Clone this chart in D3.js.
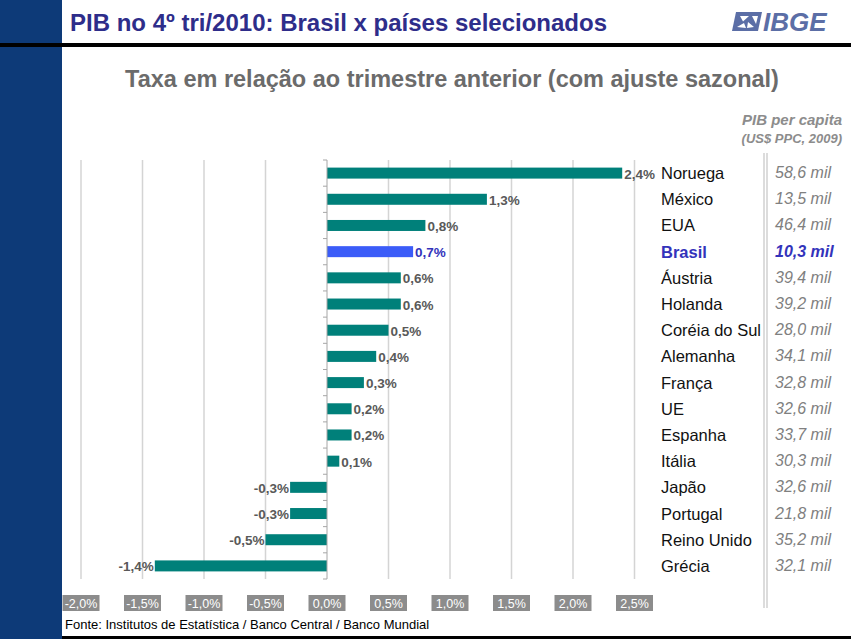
<!DOCTYPE html>
<html>
<head>
<meta charset="utf-8">
<script src="https://cdn.jsdelivr.net/npm/d3@7/dist/d3.min.js"></script>
<style>
html,body{margin:0;padding:0;background:#fff;}
svg{display:block;font-family:"Liberation Sans",Arial,sans-serif;}
</style>
</head>
<body>
<svg id="chart" width="851" height="639"></svg>
<script>
const countries = ["Noruega","México","EUA","Brasil","Áustria","Holanda","Coréia do Sul","Alemanha","França","UE","Espanha","Itália","Japão","Portugal","Reino Unido","Grécia"];
const growth = [2.4,1.3,0.8,0.7,0.6,0.6,0.5,0.4,0.3,0.2,0.2,0.1,-0.3,-0.3,-0.5,-1.4];
const perCapita = ["58,6","13,5","46,4","10,3","39,4","39,2","28,0","34,1","32,8","32,6","33,7","30,3","32,6","21,8","35,2","32,1"];
const xTicks = [-2,-1.5,-1,-0.5,0,0.5,1,1.5,2,2.5];
const highlight = "Brasil";

const svg = d3.select("#chart");
const fmt = v => v.toFixed(1).replace(".", ",") + "%";

// frame
svg.append("rect").attr("x",0).attr("y",0).attr("width",62).attr("height",639).attr("fill","#0d3a78");
svg.append("rect").attr("x",0).attr("y",43).attr("width",851).attr("height",4).attr("fill","#000");
svg.append("rect").attr("x",62).attr("y",636).attr("width",789).attr("height",3).attr("fill","#000");

// title
svg.append("text").attr("x",70).attr("y",31).attr("font-size",24).attr("font-weight","bold")
  .attr("fill","#2e2d8a").text("PIB no 4º tri/2010: Brasil x países selecionados");

// logo
const logo = svg.append("g").attr("fill","#5b6ea6");
logo.append("path").attr("d","M736,12 L762,12 L758,31 L732,31 Z");
logo.append("path").attr("d","M740,16 L749,16 L743,21.5 Z M752,16 L758,16 L756,24 Z M737,27 L744,23 L746,28 Z M748,22 L754,27 L747,28 Z").attr("fill","#fff");
logo.append("text").attr("x",763).attr("y",31).attr("font-size",26).attr("font-weight","bold")
  .attr("font-style","italic").text("IBGE");

// subtitle
svg.append("text").attr("x",452).attr("y",87).attr("text-anchor","middle").attr("font-size",23.5)
  .attr("font-weight","bold").attr("fill","#6b6b6b").text("Taxa em relação ao trimestre anterior (com ajuste sazonal)");

// per capita header
svg.append("text").attr("x",842).attr("y",125).attr("text-anchor","end").attr("font-size",15)
  .attr("font-weight","bold").attr("font-style","italic").attr("fill","#8c8c8c").text("PIB per capita");
svg.append("text").attr("x",842).attr("y",143).attr("text-anchor","end").attr("font-size",13)
  .attr("font-weight","bold").attr("font-style","italic").attr("fill","#8c8c8c").text("(US$ PPC, 2009)");

// scales
const x = d3.scaleLinear().domain([-2, 2.5]).range([81, 634.5]);
const y = d3.scaleBand().domain(countries).range([160, 579]).paddingInner(0.58).paddingOuter(0.29);
const y0 = 160, y1 = 579;

// gridlines
svg.append("g").selectAll("line").data(xTicks.filter(t => t !== 0)).join("line")
  .attr("x1", d => x(d)).attr("x2", d => x(d)).attr("y1", y0).attr("y2", y1)
  .attr("stroke","#d4d4d4").attr("stroke-width",1.5);

// separator for per-capita column
svg.append("line").attr("x1",764).attr("x2",764).attr("y1",153).attr("y2",608).attr("stroke","#d0d0d0").attr("stroke-width",1.5);
svg.append("line").attr("x1",767).attr("x2",767).attr("y1",153).attr("y2",608).attr("stroke","#d0d0d0").attr("stroke-width",1.5);

// bars
const data = countries.map((c,i) => ({c, v: growth[i], pc: perCapita[i]}));
svg.append("g").selectAll("rect").data(data).join("rect")
  .attr("x", d => x(Math.min(0, d.v))).attr("width", d => Math.abs(x(d.v) - x(0)))
  .attr("y", d => y(d.c)).attr("height", y.bandwidth())
  .attr("fill", d => d.c === highlight ? "#3b5cf8" : "#00807a");

// zero axis with ticks
const ax = svg.append("g").attr("stroke","#a6a6a6").attr("stroke-width",1);
ax.append("line").attr("x1", x(0)).attr("x2", x(0)).attr("y1", y0).attr("y2", y1);
const bounds = countries.map(c => y(c) - y.step()*y.paddingInner()/2).concat([y1]);
bounds[0] = y0;
ax.selectAll("line.t").data(bounds).join("line").attr("class","t")
  .attr("x1", x(0) - 4).attr("x2", x(0)).attr("y1", d => d).attr("y2", d => d);

// value labels
svg.append("g").selectAll("text").data(data).join("text")
  .attr("x", d => d.v >= 0 ? x(d.v) + 2 : x(d.v) - 1)
  .attr("y", d => y(d.c) + y.bandwidth()/2 + 5.5)
  .attr("text-anchor", d => d.v >= 0 ? "start" : "end")
  .attr("font-size",13.5).attr("font-weight","bold")
  .attr("fill", d => d.c === highlight ? "#3333bb" : "#595959")
  .text(d => fmt(d.v));

// country labels
svg.append("g").selectAll("text").data(data).join("text")
  .attr("x", 661).attr("y", d => y(d.c) + y.bandwidth()/2 + 6)
  .attr("font-size",16.5).attr("font-weight", d => d.c === highlight ? "bold" : "normal")
  .attr("fill", d => d.c === highlight ? "#3333bb" : "#111")
  .text(d => d.c);

// per capita values
svg.append("g").selectAll("text").data(data).join("text")
  .attr("x", 775).attr("y", d => y(d.c) + y.bandwidth()/2 + 5)
  .attr("font-size",16).attr("font-style","italic")
  .attr("font-weight", d => d.c === highlight ? "bold" : "normal")
  .attr("fill", d => d.c === highlight ? "#3333bb" : "#808080")
  .text(d => d.pc + " mil");

// x tick labels in gray boxes
const tk = svg.append("g").selectAll("g").data(xTicks).join("g")
  .attr("transform", d => `translate(${x(d)},0)`);
tk.append("rect").attr("x",-18.5).attr("y",595).attr("width",37).attr("height",16).attr("fill","#8c8c8c");
tk.append("text").attr("x",0).attr("y",607.5).attr("text-anchor","middle").attr("font-size",12.5)
  .attr("fill","#fff").text(d => d.toFixed(1).replace(".", ",") + "%");

// source
svg.append("text").attr("x",65).attr("y",629).attr("font-size",13).attr("fill","#000")
  .text("Fonte: Institutos de Estatística / Banco Central / Banco Mundial");
</script>
</body>
</html>
